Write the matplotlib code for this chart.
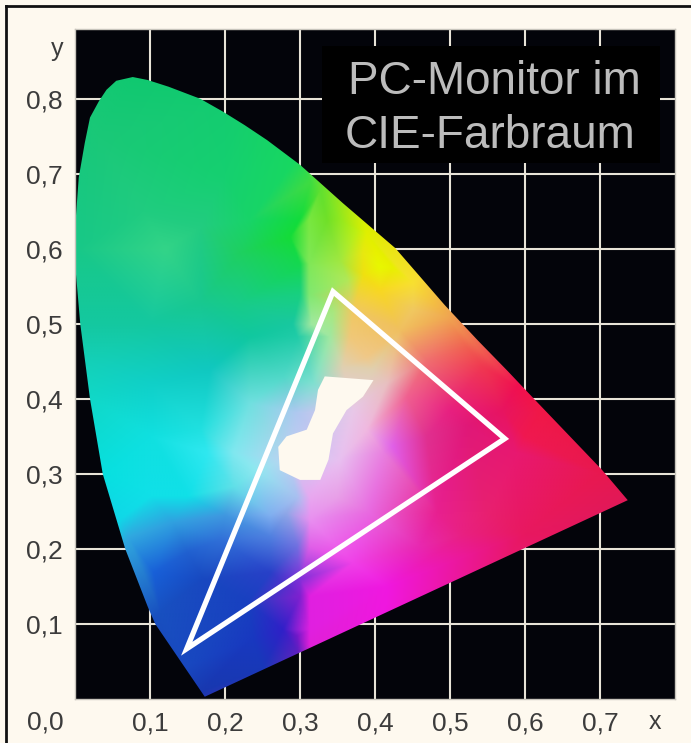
import numpy as np
import matplotlib
matplotlib.use("Agg")
import matplotlib.pyplot as plt
import matplotlib.tri as mtri
from matplotlib.lines import Line2D
from matplotlib.patches import Polygon, Rectangle

plt.rcParams['font.family'] = ['Liberation Sans', 'DejaVu Sans']

tick_x = [0.1, 0.2, 0.3, 0.4, 0.5, 0.6, 0.7]
tick_y = [0.1, 0.2, 0.3, 0.4, 0.5, 0.6, 0.7, 0.8]
labels_x = ["0,1", "0,2", "0,3", "0,4", "0,5", "0,6", "0,7"]
labels_y = ["0,1", "0,2", "0,3", "0,4", "0,5", "0,6", "0,7", "0,8"]

# Rand des Farbraums
locus_x = [0.173, 0.107, 0.097, 0.067, 0.037, 0.020, 0.007, 0.001, 0.001, 0.005, 0.013, 0.020, 0.032, 0.042, 0.055,
           0.077, 0.097, 0.125, 0.167, 0.197, 0.226, 0.256, 0.300, 0.357, 0.427, 0.493, 0.537, 0.577, 0.613, 0.703, 0.737]
locus_y = [0.003, 0.100, 0.123, 0.200, 0.300, 0.400, 0.500, 0.570, 0.640, 0.695, 0.741, 0.775, 0.797, 0.812, 0.824,
           0.829, 0.825, 0.816, 0.800, 0.783, 0.765, 0.745, 0.712, 0.661, 0.601, 0.525, 0.478, 0.437, 0.399, 0.305, 0.265]

# Dreieck des Monitors
gamut_x = [0.573, 0.344, 0.149]
gamut_y = [0.347, 0.543, 0.067]

# weisser Bereich in der Mitte
white_x = [0.333, 0.398, 0.384, 0.362, 0.344, 0.338, 0.327, 0.300, 0.273, 0.271, 0.282, 0.309, 0.320, 0.324]
white_y = [0.430, 0.425, 0.403, 0.385, 0.354, 0.319, 0.292, 0.292, 0.305, 0.336, 0.350, 0.359, 0.385, 0.412]

# Farbwerte an einzelnen Stellen: (x, y, Farbe)
outer_colors = [(-0.05, 0.95, "#10c870"), (-0.05, 0.40, "#10d8c8"), (0.30, 0.95, "#18d860"), (0.85, 0.95, "#f01050"),
                (0.85, 0.20, "#e01858"), (0.40, -0.05, "#f010e0"), (-0.05, -0.05, "#1838b0"), (0.10, -0.05, "#1838b0")]
green_colors = [(0.08, 0.83, "#10c870"), (0.03, 0.75, "#1ac878"), (0.00, 0.60, "#18c888"), (0.00, 0.50, "#14c8a0"),
                (0.09, 0.65, "#20cc80"), (0.12, 0.60, "#33d488"), (0.20, 0.79, "#14cc70"), (0.20, 0.70, "#15d070"),
                (0.295, 0.72, "#18d860"), (0.30, 0.64, "#12dc3c"), (0.30, 0.58, "#14d850"), (0.30, 0.54, "#18d080"),
                (0.287, 0.616, "#14dc38"), (0.22, 0.595, "#1ed060"), (0.22, 0.528, "#18cc88"), (0.167, 0.528, "#18c890"),
                (0.233, 0.639, "#18d468"), (0.167, 0.63, "#22cc80"), (0.10, 0.50, "#14c8a0"), (0.29, 0.50, "#18c8a0"),
                (0.296, 0.483, "#20cca8"), (0.233, 0.483, "#10c8a0")]
cyan_colors = [(0.02, 0.45, "#14d0b8"), (0.02, 0.40, "#10d8c8"), (0.10, 0.42, "#10d0c8"), (0.04, 0.30, "#08e0e0"),
               (0.10, 0.35, "#10e0e0"), (0.18, 0.44, "#10c8c0"), (0.278, 0.43, "#50d8c8"), (0.233, 0.394, "#70e0e0"),
               (0.211, 0.328, "#80e8f0"), (0.176, 0.328, "#30e8f0"), (0.167, 0.36, "#20e0e0"), (0.242, 0.305, "#90e8f0"),
               (0.211, 0.283, "#60e0e8"), (0.10, 0.27, "#10e0e8"), (0.15, 0.27, "#10e0e8"), (0.06, 0.24, "#10d8e8"),
               (0.318, 0.421, "#80e0d0"), (0.296, 0.381, "#b0c8f0"), (0.285, 0.32, "#c0d0f0")]
blue_colors = [(0.07, 0.215, "#30a8e0"), (0.13, 0.235, "#30a0e0"), (0.20, 0.245, "#4098e0"), (0.26, 0.245, "#80b0f0"),
               (0.104, 0.168, "#1860d8"), (0.149, 0.195, "#2060d0"), (0.193, 0.212, "#3070d8"), (0.26, 0.216, "#5080e0"),
               (0.282, 0.248, "#90a8e8"), (0.296, 0.269, "#a8c0f0"), (0.296, 0.203, "#7070e0"), (0.30, 0.159, "#8030d8"),
               (0.26, 0.168, "#2840c8"), (0.229, 0.128, "#1840c0"), (0.171, 0.159, "#1848c0"), (0.113, 0.115, "#1850c0"),
               (0.149, 0.043, "#1848c0"), (0.17, 0.01, "#1838b0"), (0.237, 0.079, "#1838c0"), (0.277, 0.092, "#3020c8"),
               (0.296, 0.083, "#7018c8"), (0.30, 0.136, "#8020d0"), (0.298, 0.06, "#6020c0"), (0.25, 0.04, "#1838b8")]
magenta_colors = [(0.313, 0.136, "#e020e0"), (0.313, 0.092, "#e020e0"), (0.313, 0.203, "#e060e8"), (0.313, 0.239, "#e890f0"),
                  (0.313, 0.269, "#e8a8f0"), (0.416, 0.149, "#f018e0"), (0.371, 0.181, "#f040e8"), (0.46, 0.203, "#e828b0"),
                  (0.483, 0.248, "#e82090"), (0.393, 0.248, "#e868e0"), (0.349, 0.269, "#e8a0e8"), (0.411, 0.328, "#e880e0"),
                  (0.424, 0.336, "#e060e8"), (0.371, 0.385, "#e8c8e8"), (0.389, 0.359, "#f0b8e0"), (0.353, 0.319, "#e8c0f0"),
                  (0.313, 0.07, "#e020d8")]
red_colors = [(0.469, 0.349, "#e03090"), (0.523, 0.363, "#e01878"), (0.50, 0.385, "#e82080"), (0.443, 0.403, "#f06090"),
              (0.416, 0.421, "#e8c0c0"), (0.571, 0.385, "#e81460"), (0.589, 0.328, "#e81870"), (0.589, 0.416, "#f01050"),
              (0.62, 0.38, "#f01848"), (0.60, 0.35, "#f01850"), (0.70, 0.30, "#e81850"), (0.60, 0.22, "#e81860"),
              (0.55, 0.25, "#e82070"), (0.52, 0.22, "#e82080"), (0.74, 0.26, "#e01858"), (0.544, 0.443, "#f03850"),
              (0.523, 0.469, "#f06050"), (0.469, 0.452, "#f07070")]
yellow_colors = [(0.34, 0.483, "#a0e8a0"), (0.367, 0.483, "#f0c878"), (0.389, 0.456, "#f0c888"), (0.357, 0.443, "#e0d0b0"),
                 (0.397, 0.439, "#e0d0b0"), (0.371, 0.519, "#f0c860"), (0.407, 0.545, "#f8d820"), (0.407, 0.576, "#e8f800"),
                 (0.384, 0.595, "#e8e810"), (0.389, 0.621, "#e0f000"), (0.451, 0.555, "#f8e030"), (0.451, 0.519, "#f0c860"),
                 (0.433, 0.492, "#f0c060"), (0.496, 0.509, "#f0a850"), (0.353, 0.585, "#a0e840"), (0.336, 0.639, "#70e028"),
                 (0.353, 0.639, "#90e820"), (0.376, 0.625, "#c0f010"), (0.327, 0.679, "#60e030"), (0.363, 0.559, "#b0e858"),
                 (0.353, 0.536, "#c0d860"), (0.344, 0.515, "#a8e880"), (0.315, 0.69, "#40dc40"), (0.312, 0.64, "#78e840"),
                 (0.312, 0.58, "#80e858"), (0.312, 0.54, "#80e870"), (0.315, 0.50, "#a0e8a0"), (0.40, 0.60, "#e8f000"),
                 (0.425, 0.575, "#e8f000"), (0.385, 0.565, "#f0e010")]
all_colors = outer_colors + green_colors + cyan_colors + blue_colors + magenta_colors + red_colors + yellow_colors

creme = "#fef9ef"
fig = plt.figure(figsize=(6.91, 7.43), dpi=100, facecolor=creme)
ax = fig.add_axes([75 / 691, 44 / 743, 600 / 691, 670 / 743])
ax.set_facecolor("#03040a")
ax.set_xlim(0, 0.8)
ax.set_ylim(0, 0.893)

ax.set_xticks(tick_x)
ax.set_xticklabels(labels_x, fontsize=19, color="#3c3c3c")
ax.set_yticks(tick_y)
ax.set_yticklabels(labels_y, fontsize=19, color="#3c3c3c")
ax.tick_params(length=0, pad=9)
ax.grid(True, color="#e8e4d8", linewidth=1.5, zorder=1)
ax.set_axisbelow(True)
for s in ax.spines.values():
    s.set_color("#c8c5bc")
    s.set_linewidth(1)

# Farbflaeche aus den Farbwerten interpolieren
color_x = [c[0] for c in all_colors]
color_y = [c[1] for c in all_colors]
rgb = np.array([matplotlib.colors.to_rgb(c[2]) for c in all_colors])
tri = mtri.Triangulation(color_x, color_y)
gx, gy = np.meshgrid(np.linspace(0, 0.8, 400), np.linspace(0, 0.893, 450))
field = np.zeros(gx.shape + (3,))
for i in range(3):
    interp = mtri.LinearTriInterpolator(tri, rgb[:, i])
    field[:, :, i] = np.ma.filled(interp(gx, gy), 0)
field = np.clip(field, 0, 1)

outline = Polygon(np.column_stack([locus_x, locus_y]), closed=True, transform=ax.transData,
                  facecolor="none", edgecolor="none")
ax.add_patch(outline)
im = ax.imshow(field, origin="lower", extent=[0, 0.8, 0, 0.893], aspect="auto",
               interpolation="bilinear", zorder=2)
im.set_clip_path(outline)

ax.fill(white_x, white_y, color=creme, zorder=3, linewidth=0)
ax.add_patch(Polygon(np.column_stack([gamut_x, gamut_y]), closed=True, fill=False,
                     edgecolor="white", linewidth=3.8, joinstyle="miter", zorder=4))

# Titelkasten
ax.add_patch(Rectangle((0.329, 0.714), 0.451, 0.157, facecolor="black", edgecolor="none", zorder=5))
ax.text(0.5587, 0.823, "PC-Monitor im", fontsize=33, color="#bcbcbc", ha="center", va="center", zorder=6)
ax.text(0.553, 0.75, "CIE-Farbraum", fontsize=33, color="#bcbcbc", ha="center", va="center", zorder=6)

# Beschriftung ausserhalb der Ticks
ax.text(-0.04, -0.031, "0,0", fontsize=19, color="#3c3c3c", ha="center", va="center", clip_on=False)
ax.text(0.773, -0.031, "x", fontsize=18, color="#3c3c3c", ha="center", va="center", clip_on=False)
ax.text(-0.024, 0.866, "y", fontsize=18, color="#3c3c3c", ha="center", va="center", clip_on=False)

# schwarzer Rand oben und links
fig.add_artist(Line2D([6 / 691, 1], [1 - 6 / 743, 1 - 6 / 743], color="#111111", linewidth=2))
fig.add_artist(Line2D([6 / 691, 6 / 691], [0, 1 - 6 / 743], color="#111111", linewidth=2))

fig.savefig("out.png", dpi=100, facecolor=creme)
